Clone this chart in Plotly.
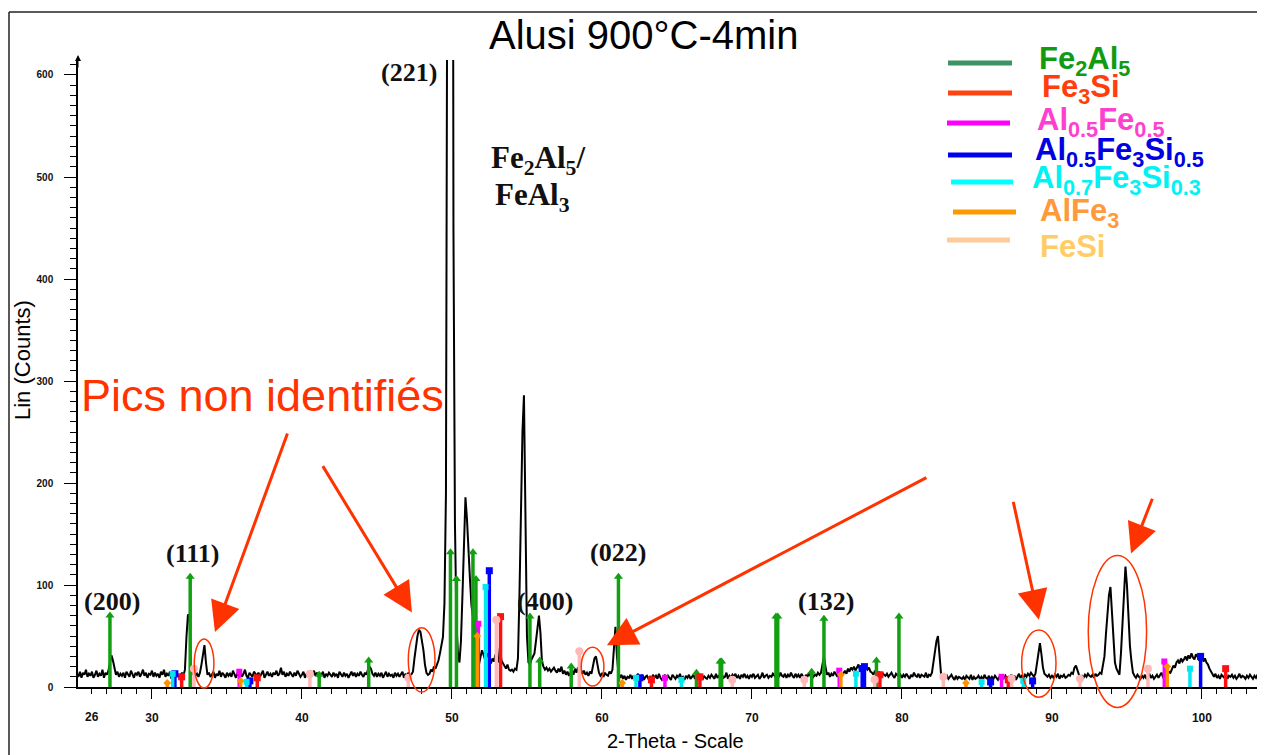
import numpy as np
import plotly.graph_objects as go

# ---------------- data ----------------
scan_start = 25.0   # 2-theta of first point
scan_step = 0.1     # degrees per point
counts_rows = [
    [13,10,15,9,14,12,17,10,13,11],          # 25
    [15,9,12,16,10,13,11,17,9,14],           # 26
    [12,16,24,31,26,18,12,15,10,13],         # 27
    [11,14,9,15,12,10,16,13,9,14],           # 28
    [12,15,10,13,17,11,14,9,13,12],          # 29
    [16,10,14,11,13,9,15,12,17,10],          # 30
    [13,11,15,8,12,14,10,13,9,12],           # 31
    [14,11,17,49,71,70,22,12,15,11],         # 32
    [13,10,14,22,33,41,24,12,14,10],         # 33
    [12,15,9,13,11,16,10,14,12,9],           # 34
    [14,11,13,10,16,12,9,14,11,15],          # 35
    [10,13,17,11,9,14,12,10,15,13],          # 36
    [11,14,10,13,16,9,12,15,11,13],          # 37
    [10,14,12,16,11,13,19,12,15,10],         # 38
    [13,11,15,12,10,14,11,16,13,10],         # 39
    [12,15,9,13,11,14,10,12,16,11],          # 40
    [14,10,13,12,15,9,13,11,14,12],          # 41
    [10,14,11,13,9,15,12,10,14,11],          # 42
    [13,9,12,15,11,14,10,13,11,15],          # 43
    [12,10,14,12,17,20,18,13,11,14],         # 44
    [10,13,11,14,9,12,15,10,13,11],          # 45
    [12,9,14,11,13,10,12,15,9,13],           # 46
    [11,14,10,12,15,28,42,50,56,54],         # 47
    [45,36,22,14,12,13,17,15,20,18],         # 48
    [22,26,33,40,49,82,190,800,1800,2400],   # 49
    [1500,450,160,62,33,24,45,90,150,186],   # 50
    [165,128,106,80,66,58,30,24,22,28],      # 51
    [36,32,27,30,33,26,23,28,25,32],         # 52
    [30,24,39,26,23,20,18,22,17,16],         # 53
    [17,15,18,17,28,90,175,250,286,160],     # 54
    [50,24,22,27,30,33,45,56,70,53],         # 55
    [25,20,17,19,16,18,15,17,19,16],         # 56
    [14,18,15,20,13,16,12,15,11,14],         # 57
    [16,12,18,14,19,15,17,13,16,12],         # 58
    [14,11,15,13,20,28,30,22,14,11],         # 59
    [13,10,14,12,11,15,13,17,38,59],         # 60
    [30,14,9,12,8,11,7,10,9,12],             # 61
    [8,11,7,10,13,8,9,12,7,10],              # 62
    [11,8,10,7,12,9,11,8,13,9],              # 63
    [7,10,12,8,11,9,7,12,10,8],              # 64
    [11,9,13,8,10,7,11,9,12,8],              # 65
    [10,12,8,11,14,9,10,7,11,9],             # 66
    [8,11,9,12,10,8,13,9,11,10],             # 67
    [12,9,10,14,8,11,9,12,10,13],            # 68
    [9,11,8,12,10,13,9,11,8,12],             # 69
    [10,13,9,11,12,8,10,14,9,11],            # 70
    [12,9,11,10,13,11,9,12,10,14],           # 71
    [11,10,13,9,12,10,14,11,9,13],           # 72
    [10,12,9,13,11,8,12,10,14,11],           # 73
    [13,10,12,11,14,12,14,22,30,20],         # 74
    [12,14,10,13,11,15,12,10,14,13],         # 75
    [11,14,16,13,18,15,19,17,20,16],         # 76
    [19,22,17,21,18,16,20,17,19,15],         # 77
    [14,12,16,11,13,15,10,14,12,11],         # 78
    [13,10,12,14,11,9,13,11,10,12],          # 79
    [9,12,10,13,11,8,12,10,14,11],           # 80
    [10,13,9,12,11,10,14,9,12,11],           # 81
    [14,26,36,45,50,30,14,10,12,9],          # 82
    [11,8,10,12,9,7,11,8,10,9],              # 83
    [8,10,7,11,9,8,12,7,10,8],               # 84
    [9,11,8,10,7,12,9,8,11,7],               # 85
    [10,8,11,9,7,10,12,8,9,11],              # 86
    [8,10,9,12,8,11,7,10,13,9],              # 87
    [11,9,12,10,13,11,14,12,10,13],          # 88
    [22,35,43,32,19,13,11,10,12,9],          # 89
    [11,9,12,10,13,8,11,10,12,9],            # 90
    [10,12,11,14,13,19,21,15,12,10],         # 91
    [11,9,12,10,13,11,10,12,9,13],           # 92
    [11,12,14,13,20,30,52,75,90,98],         # 93
    [72,40,24,18,14,12,33,62,98,118],        # 94
    [100,68,40,25,14,11,9,12,10,8],          # 95
    [11,9,12,8,10,13,9,11,8,10],             # 96
    [12,9,11,14,10,12,13,11,15,14],          # 97
    [18,21,19,24,26,23,28,25,27,30],         # 98
    [26,31,28,33,29,27,32,30,26,29],         # 99
    [31,25,28,24,22,18,15,12,10,13],         # 100
    [9,11,8,12,10,9,13,8,11,10],             # 101
    [12,9,11,8,10,13,9,11,10,8],             # 102
    [11,9,12,10,8,11,9,12,10,13],            # 103
    [10],                                    # 104
]

# reference stick patterns (2-theta, relative height in counts)
fe2al5_pos = [27.2, 32.55, 41.15, 44.45, 49.9, 50.3, 51.4, 51.6, 55.2, 55.85, 57.95,
              61.1, 66.3, 67.88, 67.98, 71.6, 71.72, 73.98, 74.8, 78.3, 79.8]
fe2al5_h = [70, 108, 12, 26, 132, 106, 132, 106, 69, 26, 20,
            108, 14, 25, 25, 69, 69, 15, 67, 26, 69]
fe3si_pos = [31.98, 37.02, 53.24, 63.3, 66.53, 78.53, 87.09, 101.58]
fe3si_h = [10, 9, 69, 7, 10, 12, 7, 18]
al05fe05_pos = [35.82, 51.76, 64.2, 75.82, 86.64, 97.49]
al05fe05_h = [15, 62, 9, 16, 10, 25]
al05fe3si05_pos = [31.53, 36.53, 52.49, 62.53, 77.35, 77.5, 85.91, 88.71, 99.91]
al05fe3si05_h = [13, 6, 114, 9, 18, 20, 5, 6, 30]
al07fe3si03_pos = [31.38, 36.31, 52.24, 62.27, 65.3, 76.93, 85.31, 88.09, 99.2]
al07fe3si03_h = [13, 5, 98, 9, 7, 13, 5, 6, 18]
alfe3_pos = [31.02, 35.91, 51.69, 61.35, 75.93, 84.27, 97.69]
alfe3_h = [4, 6, 50, 4, 12, 4, 20]
fesi_pos = [32.8, 40.53, 47.09, 52.96, 58.49, 68.69, 73.49, 78.18, 82.76, 87.31, 91.87, 96.4]
fesi_h = [18, 13, 9, 66, 35, 7, 7, 7, 10, 8, 8, 18]

# peak (hkl) labels: text, 2-theta, counts
hkl_text = ["(200)", "(111)", "(221)", "(400)", "(022)", "(132)"]
hkl_x = [27.33, 32.73, 47.13, 56.2, 61.07, 74.93]
hkl_y = [84, 131, 602, 84, 132, 84]

# unidentified peaks: ellipse bounds (2-theta, counts)
ell_x0 = [32.82, 47.09, 58.62, 87.98, 92.42]
ell_x1 = [34.13, 48.87, 60.13, 90.27, 96.31]
ell_y0 = [-1, -5, 1, -10, -20]
ell_y1 = [47, 58, 39, 56, 129]
# arrows: head (x,y) and tail (x,y) in data units
arr_hx = [34.2, 47.33, 60.33, 89.13, 95.27]
arr_hy = [54, 73, 41, 66, 131]
arr_tx = [39.07, 41.33, 81.73, 87.4, 96.73]
arr_ty = [250, 218, 206, 183, 186]

# ---------------- figure ----------------
counts = [v for row in counts_rows for v in row]
two_theta = scan_start + scan_step * np.arange(len(counts))

# page is 1265x755; the html body adds an 8px offset
OFF = 8
PAGE_W, PAGE_H = 1265, 755
W, H = PAGE_W - OFF, PAGE_H - OFF
# plot area in page pixels
L, R, T, B = 78, 1263, 60, 687
Y_MAX = 614.7


def pxx(p):
    return (p - L) / (R - L)


def pxy(p):
    return (B - p) / (B - T)


fig = go.Figure()

fig.add_trace(go.Scatter(x=two_theta, y=counts, mode="lines",
                         line=dict(color="black", width=2),
                         hoverinfo="skip", showlegend=False))

phases = [
    (fe2al5_pos, fe2al5_h, "#12a012", "triangle-up", 8),
    (fe3si_pos, fe3si_h, "#ff1010", "square", 7),
    (al05fe05_pos, al05fe05_h, "#ff00ff", "square", 6),
    (al05fe3si05_pos, al05fe3si05_h, "#0000ff", "square", 7),
    (al07fe3si03_pos, al07fe3si03_h, "#00e8f0", "square", 6),
    (alfe3_pos, alfe3_h, "#ff9000", "diamond", 6),
    (fesi_pos, fesi_h, "#ffb8b8", "circle", 8),
]
for pos, hts, col, sym, msz in phases:
    xs, ys = [], []
    for p, h in zip(pos, hts):
        xs += [p, p, None]
        ys += [0, h, None]
    fig.add_trace(go.Scatter(x=xs, y=ys, mode="lines",
                             line=dict(color=col, width=3.5),
                             hoverinfo="skip", showlegend=False))
    fig.add_trace(go.Scatter(x=pos, y=hts, mode="markers",
                             marker=dict(symbol=sym, size=msz, color=col),
                             hoverinfo="skip", showlegend=False, cliponaxis=False))

SANS = "Liberation Sans, Arial, sans-serif"
SERIF = "Liberation Serif, Times New Roman, serif"
RED = "#ff3300"

ann = []
shapes = []

# title and axis titles
ann.append(dict(text="Alusi 900°C-4min", x=pxx(643), y=pxy(35), xref="paper", yref="paper",
                showarrow=False, font=dict(family=SANS, size=40, color="black"),
                xanchor="center", yanchor="middle"))
ann.append(dict(text="2-Theta - Scale", x=pxx(675), y=pxy(741), xref="paper", yref="paper",
                showarrow=False, font=dict(family=SANS, size=20, color="black"),
                xanchor="center", yanchor="middle"))
ann.append(dict(text="Lin (Counts)", x=pxx(22), y=pxy(360), xref="paper", yref="paper",
                showarrow=False, textangle=-90, font=dict(family=SANS, size=22, color="black"),
                xanchor="center", yanchor="middle"))
ann.append(dict(text="26", x=26, y=pxy(717), xref="x", yref="paper", showarrow=False,
                font=dict(family=SANS, size=12, color="#111", weight="bold"),
                xanchor="center", yanchor="middle"))

# hkl labels
for t, x, y in zip(hkl_text, hkl_x, hkl_y):
    ann.append(dict(text=t, x=x, y=y, xref="x", yref="y", showarrow=False,
                    font=dict(family=SERIF, size=26, color="#111", weight="bold"),
                    xanchor="center", yanchor="middle"))
ann.append(dict(text="Fe<sub>2</sub>Al<sub>5</sub>/", x=55.73, y=517, xref="x", yref="y",
                showarrow=False, font=dict(family=SERIF, size=31, color="#111", weight="bold"),
                xanchor="center", yanchor="middle"))
ann.append(dict(text="FeAl<sub>3</sub>", x=55.4, y=480, xref="x", yref="y",
                showarrow=False, font=dict(family=SERIF, size=31, color="#111", weight="bold"),
                xanchor="center", yanchor="middle"))

# unidentified peaks
ann.append(dict(text="Pics non identifiés", x=37.4, y=286, xref="x", yref="y",
                showarrow=False, font=dict(family=SANS, size=45, color=RED),
                xanchor="center", yanchor="middle"))
for hx, hy, tx, ty in zip(arr_hx, arr_hy, arr_tx, arr_ty):
    ann.append(dict(text="", x=hx, y=hy, ax=tx, ay=ty, xref="x", yref="y",
                    axref="x", ayref="y", showarrow=True, arrowhead=2, arrowsize=2,
                    arrowwidth=3, arrowcolor=RED, standoff=0))
for x0, x1, y0, y1 in zip(ell_x0, ell_x1, ell_y0, ell_y1):
    shapes.append(dict(type="circle", xref="x", yref="paper", x0=x0, x1=x1,
                       y0=y0 / Y_MAX, y1=y1 / Y_MAX, line=dict(color=RED, width=1.5)))

# y-axis arrow
ann.append(dict(text="", x=0, y=pxy(55), xref="paper", yref="paper", ax=0, ay=14,
                showarrow=True, arrowhead=2, arrowsize=1.2, arrowwidth=1, arrowcolor="black",
                standoff=0))

# legend (custom)
legend_items = [
    ("Fe<sub>2</sub>Al<sub>5</sub>", "#3c9465", "#139a13", 948, 1012, 63, 1037, 61),
    ("Fe<sub>3</sub>Si", "#ff4411", "#ff3d0d", 948, 1012, 93, 1040, 89),
    ("Al<sub>0.5</sub>Fe<sub>0.5</sub>", "#ff00ff", "#ff3fcf", 947, 1010, 123, 1035, 122),
    ("Al<sub>0.5</sub>Fe<sub>3</sub>Si<sub>0.5</sub>", "#0000ee", "#0000e0", 948, 1012, 155, 1033, 152),
    ("Al<sub>0.7</sub>Fe<sub>3</sub>Si<sub>0.3</sub>", "#00ffff", "#00f2f2", 951, 1013, 182, 1030, 180),
    ("AlFe<sub>3</sub>", "#ff9900", "#ff9a3c", 953, 1016, 212, 1038, 213),
    ("FeSi", "#ffcc99", "#ffcc66", 947, 1010, 240, 1038, 246),
]
for txt, lc, tc, x0, x1, ly, tx, ty in legend_items:
    shapes.append(dict(type="line", xref="paper", yref="paper", x0=pxx(x0), x1=pxx(x1),
                       y0=pxy(ly), y1=pxy(ly), line=dict(color=lc, width=5)))
    ann.append(dict(text=txt, x=pxx(tx), y=pxy(ty), xref="paper", yref="paper",
                    showarrow=False, xanchor="left", yanchor="middle",
                    font=dict(family=SANS, size=31, color=tc, weight="bold")))

# outer frame (left and top)
shapes.append(dict(type="line", xref="paper", yref="paper", x0=pxx(9), x1=pxx(9),
                   y0=pxy(12), y1=pxy(770), line=dict(color="#222", width=1.5)))
shapes.append(dict(type="line", xref="paper", yref="paper", x0=pxx(9), x1=pxx(1280),
                   y0=pxy(12), y1=pxy(12), line=dict(color="#222", width=1.5)))

fig.update_layout(
    width=W, height=H,
    margin=dict(l=L - OFF, r=PAGE_W - R, t=T - OFF, b=PAGE_H - B, pad=0,
                autoexpand=False),
    paper_bgcolor="white", plot_bgcolor="white",
    showlegend=False,
    annotations=ann, shapes=shapes,
    xaxis=dict(range=[25.07, 104.07], tickmode="array",
               tickvals=[30, 40, 50, 60, 70, 80, 90, 100],
               ticks="outside", ticklen=10, tickwidth=1, tickcolor="black",
               minor=dict(tickmode="linear", tick0=0, dtick=1, ticks="outside",
                          ticklen=5, tickcolor="black"),
               showline=True, linecolor="black", linewidth=1.5, showgrid=False,
               zeroline=False, ticklabelstandoff=9,
               tickfont=dict(family=SANS, size=12, color="#111", weight="bold")),
    yaxis=dict(range=[0, Y_MAX], tick0=0, dtick=100,
               ticks="outside", ticklen=12, tickwidth=1, tickcolor="black",
               minor=dict(tick0=0, dtick=10, ticks="outside", ticklen=6, tickcolor="black"),
               showline=True, linecolor="black", linewidth=1.5, showgrid=False,
               zeroline=False, ticklabelstandoff=9,
               tickfont=dict(family=SANS, size=10, color="#111", weight="bold")),
)

fig.write_html("out.html")
